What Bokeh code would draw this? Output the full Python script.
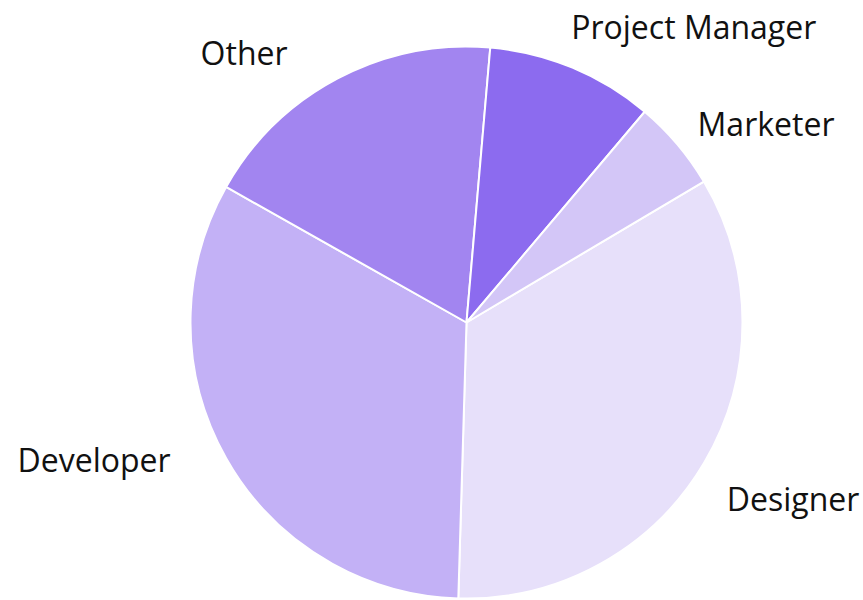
import math
from bokeh.plotting import figure
from bokeh.models import ColumnDataSource, Range1d
from bokeh.core.properties import value
from bokeh.embed import file_html
from bokeh.resources import INLINE

categories = ["Designer", "Developer", "Other", "Project Manager", "Marketer"]
shares = [34.0, 32.7, 18.2, 9.8, 5.3]
colors = ["#e7e0fa", "#c3b1f6", "#a285f0", "#8c6bef", "#d3c6f7"]

# label layout: angular nudge (deg) from slice middle, and distance from centre (px)
label_nudge = [-3.5, -4.6, 5.7, 3.1, 0.5]
label_dist = [314, 326, 324, 314, 305]

W, H = 863, 600
cx, cy, R = 466, 278, 276
start_deg = 30.7

total = sum(shares)
starts, ends, lx, ly, aligns = [], [], [], [], []
a = math.radians(start_deg)
for s, nd, ld in zip(shares, label_nudge, label_dist):
    sweep = 2 * math.pi * s / total
    starts.append(a - sweep)
    ends.append(a)
    mid = a - sweep / 2 + math.radians(nd)
    lx.append(cx + ld * math.cos(mid))
    ly.append(cy + ld * math.sin(mid))
    aligns.append("left" if math.cos(mid) > 0 else "right")
    a -= sweep

src = ColumnDataSource(dict(cat=categories, start=starts, end=ends, color=colors,
                            lx=lx, ly=ly, align=aligns))

p = figure(width=W, height=H, output_backend="svg", toolbar_location=None,
           x_range=Range1d(0, W), y_range=Range1d(0, H), min_border=0)
p.axis.visible = False
p.grid.visible = False
p.outline_line_color = None
p.background_fill_color = "white"

p.wedge(x=cx, y=cy, radius=R, start_angle="start", end_angle="end",
        fill_color="color", line_color="white", line_width=2, source=src)
p.text(x="lx", y="ly", text="cat", text_align="align", text_baseline="middle",
       text_font=value("Open Sans"), text_font_size="32px", text_color="#111111",
       source=src)

open("out.html", "w").write(file_html(p, INLINE))
